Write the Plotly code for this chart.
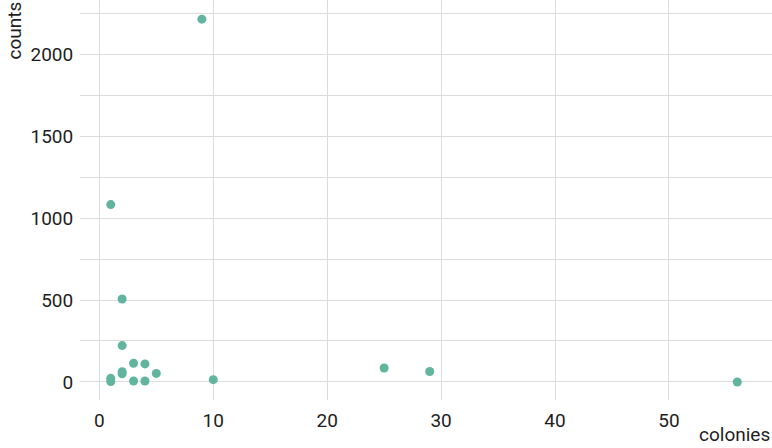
import plotly.graph_objects as go

colonies = [9, 1, 2, 2, 3, 4, 2, 2, 5, 1, 1, 3, 4, 10, 25, 29, 56]
counts = [2213, 1082, 506, 222, 114, 110, 50, 62, 52, 22, 3, 6, 6, 14, 85, 64, 0]

fig = go.Figure(go.Scatter(
    x=colonies, y=counts, mode="markers",
    marker=dict(color="#61b49e", size=9, line=dict(width=0)),
))

fig.update_layout(
    width=772, height=448,
    margin=dict(l=80, r=0, t=0, b=48),
    paper_bgcolor="white", plot_bgcolor="white",
    font=dict(family="Roboto", size=19, color="#1e1e1e"),
    showlegend=False,
    xaxis=dict(range=[-1.7, 59.05], tickvals=[0, 10, 20, 30, 40, 50],
               showgrid=True, gridcolor="#dcdcdc", gridwidth=1, zeroline=False,
               showline=False, ticks="outside", ticklen=3, tickcolor="rgba(0,0,0,0)"),
    yaxis=dict(range=[-110, 2330], tickvals=[0, 500, 1000, 1500, 2000],
               showgrid=True, gridcolor="#dcdcdc", gridwidth=1, zeroline=False,
               showline=False, ticks="outside", ticklen=2, tickcolor="rgba(0,0,0,0)",
               minor=dict(dtick=250, tick0=0, showgrid=True, gridcolor="#dcdcdc", gridwidth=1)),
    annotations=[
        dict(text="counts", xref="paper", yref="paper", x=-80/692, y=1.0,
             xanchor="left", yanchor="top", textangle=-90, showarrow=False,
             font=dict(size=19, color="#1e1e1e")),
        dict(text="colonies", xref="paper", yref="paper", x=1.0, y=-48/400,
             xanchor="right", yanchor="bottom", showarrow=False,
             font=dict(size=19, color="#1e1e1e")),
    ],
)

fig.write_html("out.html")
